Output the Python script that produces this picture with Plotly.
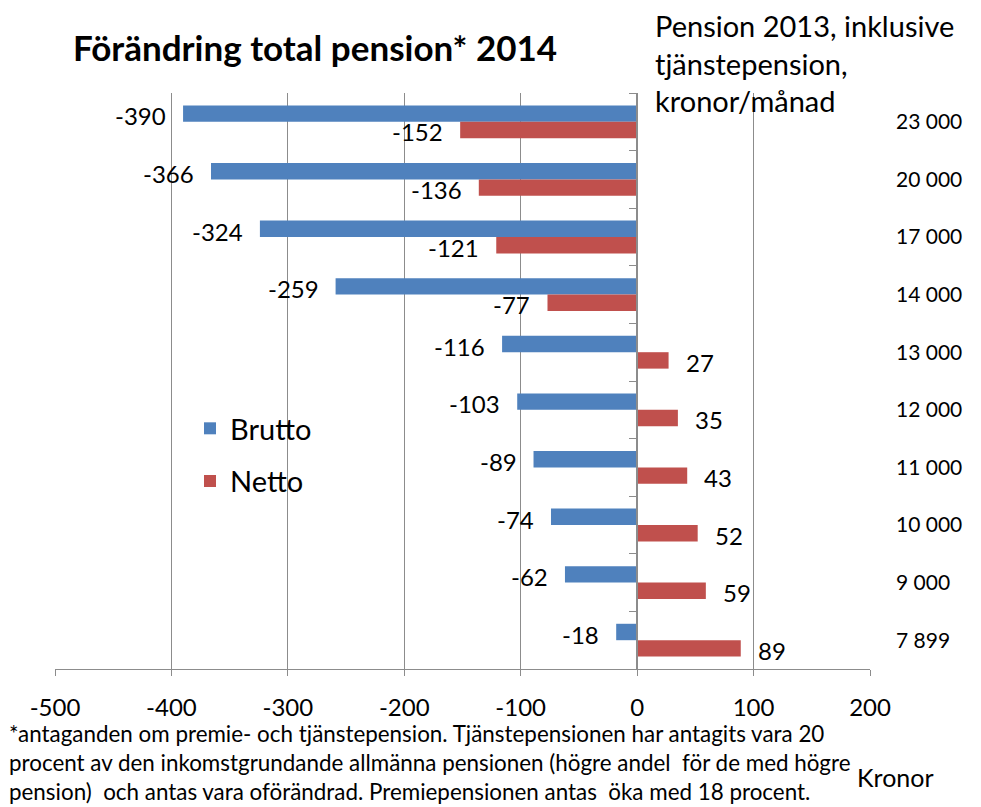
import plotly.graph_objects as go

categories = ["23 000", "20 000", "17 000", "14 000", "13 000", "12 000", "11 000", "10 000", "9 000", "7 899"]
brutto = [-390, -366, -324, -259, -116, -103, -89, -74, -62, -18]
netto = [-152, -136, -121, -77, 27, 35, 43, 52, 59, 89]
x_ticks = [-500, -400, -300, -200, -100, 0, 100, 200]
x_tick_labels = ["-500", "-400", "-300", "-200", "-100", "0", "100", "200"]

BLUE = "#4F81BD"
RED = "#C0504D"
GRID = "#8C8C8C"
FONT = "Lato"

# the page body adds an 8px offset; the figure is sized so it fits the 981x807 window
PL, PT, PW, PH = 55, 92.5, 815, 577   # plot area in window pixels


def px(xw):
    return (xw - PL) / PW


def py(yw):
    return (PT + PH - yw) / PH


fig = go.Figure()
fig.add_trace(go.Bar(y=categories, x=brutto, orientation="h", name="Brutto",
                     marker=dict(color=BLUE, line=dict(width=0)), legendgroup="b"))
fig.add_trace(go.Bar(y=categories, x=netto, orientation="h", name="Netto",
                     marker=dict(color=RED, line=dict(width=0)), legendgroup="n"))
# invisible helper trace for the category axis drawn at x = 0
fig.add_trace(go.Scatter(y=categories, x=[0] * len(categories), yaxis="y2", mode="markers",
                         marker=dict(opacity=0), showlegend=False, hoverinfo="skip"))

annotations = []
for c, b, n in zip(categories, brutto, netto):
    annotations.append(dict(x=b, y=c, text=str(b), showarrow=False, xanchor="right",
                            xshift=-15, yshift=6, font=dict(family=FONT, size=24, color="black")))
    annotations.append(dict(x=n, y=c, text=str(n), showarrow=False,
                            xanchor="left" if n > 0 else "right",
                            xshift=15 if n > 0 else -15, yshift=-10,
                            font=dict(family=FONT, size=24, color="black")))

annotations.append(dict(xref="paper", yref="paper", x=px(315), y=py(46),
                        text="<b>Förändring total pension* 2014</b>", showarrow=False,
                        xanchor="center", yanchor="middle",
                        font=dict(family=FONT, size=35, color="black")))
annotations.append(dict(xref="paper", yref="paper", x=px(653), y=py(5),
                        text="Pension 2013, inklusive<br>tjänstepension,<br>kronor/månad",
                        showarrow=False, xanchor="left", yanchor="top", align="left",
                        font=dict(family=FONT, size=29, color="black")))
annotations.append(dict(xref="paper", yref="paper", x=px(8.5), y=py(721),
                        text="*antaganden om premie- och tjänstepension. Tjänstepensionen har antagits vara 20<br>"
                             "procent av den inkomstgrundande allmänna pensionen (högre andel  för de med högre<br>"
                             "pension)  och antas vara oförändrad. Premiepensionen antas  öka med 18 procent.",
                        showarrow=False, xanchor="left", yanchor="top", align="left",
                        borderpad=0, borderwidth=0,
                        font=dict(family=FONT, size=22.4, color="black")))
annotations.append(dict(xref="paper", yref="paper", x=px(895), y=py(778),
                        text="Kronor", showarrow=False, xanchor="center", yanchor="middle",
                        font=dict(family=FONT, size=25, color="black")))

fig.update_layout(
    width=973, height=799,
    margin=dict(l=PL - 8, r=973 - (PL - 8) - PW, t=PT - 8, b=799 - (PT - 8) - PH),
    paper_bgcolor="white", plot_bgcolor="white",
    barmode="group", bargap=0.43, bargroupgap=0,
    font=dict(family=FONT, color="black"),
    xaxis=dict(range=[-500, 200], tickvals=x_ticks, ticktext=x_tick_labels,
               showgrid=True, gridcolor=GRID, gridwidth=1, automargin=False,
               zeroline=False, showline=True, linecolor=GRID, linewidth=1,
               ticks="outside", ticklen=6, tickcolor=GRID, ticklabelstandoff=11,
               tickfont=dict(family=FONT, size=24, color="black")),
    yaxis=dict(categoryorder="array", categoryarray=categories, range=[9.5, -0.5],
               side="right", ticks="", showline=False, showgrid=False, automargin=False,
               ticklabelstandoff=25, tickfont=dict(family=FONT, size=21, color="black")),
    yaxis2=dict(overlaying="y", anchor="free", position=500 / 700, side="left",
                categoryorder="array", categoryarray=categories, range=[9.5, -0.5],
                showticklabels=False, showline=True, linecolor=GRID, linewidth=1.5,
                ticks="outside", tickson="boundaries", ticklen=7, tickcolor=GRID,
                showgrid=False, zeroline=False, automargin=False),
    legend=dict(x=px(190), y=py(403), xanchor="left", yanchor="top",
                bgcolor="rgba(0,0,0,0)", tracegroupgap=12,
                font=dict(family=FONT, size=29, color="black")),
    annotations=annotations,
    showlegend=True,
)

fig.write_html("out.html")
